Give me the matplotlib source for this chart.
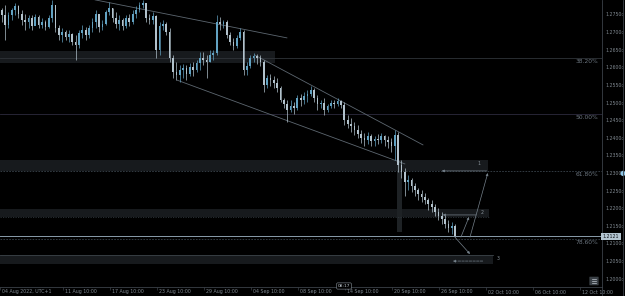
import numpy as np
import matplotlib.pyplot as plt
from matplotlib.patches import Rectangle, FancyBboxPatch, Ellipse
from matplotlib.lines import Line2D
from matplotlib.transforms import blended_transform_factory

# price data (one candle per bar)
first_open = 1.2764
closes = [1.2750, 1.2722, 1.2750, 1.2764, 1.2776, 1.2753, 1.2736, 1.2730, 1.2742, 1.2719,
          1.2744, 1.2722, 1.2730, 1.2716, 1.2742, 1.2778, 1.2713, 1.2693, 1.2702, 1.2687,
          1.2696, 1.2673, 1.2665, 1.2699, 1.2707, 1.2693, 1.2713, 1.2730, 1.2753, 1.2716,
          1.2724, 1.2759, 1.2770, 1.2742, 1.2724, 1.2736, 1.2719, 1.2742, 1.2730, 1.2753,
          1.2764, 1.2778, 1.2784, 1.2742, 1.2736, 1.2747, 1.2651, 1.2719, 1.2724, 1.2702,
          1.2628, 1.2588, 1.2580, 1.2594, 1.2599, 1.2582, 1.2602, 1.2594, 1.2614, 1.2628,
          1.2622, 1.2616, 1.2636, 1.2642, 1.2730, 1.2724, 1.2730, 1.2693, 1.2673, 1.2662,
          1.2685, 1.2702, 1.2594, 1.2605, 1.2628, 1.2634, 1.2628, 1.2616, 1.2551, 1.2571,
          1.2565, 1.2557, 1.2543, 1.2509, 1.2497, 1.2480, 1.2491, 1.2486, 1.2514, 1.2509,
          1.2520, 1.2526, 1.2537, 1.2514, 1.2497, 1.2500, 1.2480, 1.2491, 1.2500, 1.2497,
          1.2506, 1.2494, 1.2452, 1.2440, 1.2435, 1.2423, 1.2412, 1.2401, 1.2395, 1.2406,
          1.2392, 1.2398, 1.2395, 1.2406, 1.2395, 1.2389, 1.2378, 1.2409, 1.2324, 1.2304,
          1.2275, 1.2281, 1.2264, 1.2253, 1.2241, 1.2233, 1.2224, 1.2213, 1.2205, 1.2190,
          1.2179, 1.2170, 1.2156, 1.2145, 1.2151, 1.2121]
highs = [1.2770, 1.2778, 1.2759, 1.2770, 1.2784, 1.2778, 1.2764, 1.2753, 1.2750, 1.2750,
         1.2753, 1.2750, 1.2742, 1.2736, 1.2750, 1.2793, 1.2778, 1.2722, 1.2713, 1.2707,
         1.2707, 1.2699, 1.2693, 1.2707, 1.2722, 1.2716, 1.2722, 1.2742, 1.2764, 1.2750,
         1.2736, 1.2764, 1.2787, 1.2770, 1.2759, 1.2750, 1.2742, 1.2750, 1.2753, 1.2764,
         1.2776, 1.2787, 1.2793, 1.2784, 1.2753, 1.2759, 1.2750, 1.2730, 1.2736, 1.2730,
         1.2713, 1.2636, 1.2616, 1.2608, 1.2611, 1.2608, 1.2614, 1.2616, 1.2622, 1.2645,
         1.2645, 1.2636, 1.2651, 1.2651, 1.2750, 1.2744, 1.2736, 1.2736, 1.2702, 1.2685,
         1.2693, 1.2713, 1.2707, 1.2616, 1.2636, 1.2642, 1.2639, 1.2636, 1.2622, 1.2580,
         1.2582, 1.2577, 1.2571, 1.2548, 1.2514, 1.2509, 1.2509, 1.2503, 1.2523, 1.2526,
         1.2531, 1.2537, 1.2548, 1.2543, 1.2523, 1.2509, 1.2514, 1.2497, 1.2509, 1.2509,
         1.2514, 1.2509, 1.2503, 1.2466, 1.2457, 1.2446, 1.2438, 1.2423, 1.2415, 1.2418,
         1.2412, 1.2406, 1.2412, 1.2415, 1.2409, 1.2406, 1.2401, 1.2423, 1.2418, 1.2338,
         1.2315, 1.2296, 1.2287, 1.2273, 1.2259, 1.2253, 1.2244, 1.2230, 1.2224, 1.2213,
         1.2202, 1.2190, 1.2182, 1.2168, 1.2162, 1.2156]
lows = [1.2730, 1.2679, 1.2713, 1.2736, 1.2750, 1.2742, 1.2722, 1.2707, 1.2713, 1.2707,
        1.2724, 1.2713, 1.2713, 1.2707, 1.2713, 1.2730, 1.2702, 1.2679, 1.2673, 1.2679,
        1.2673, 1.2665, 1.2622, 1.2656, 1.2685, 1.2679, 1.2685, 1.2702, 1.2713, 1.2702,
        1.2707, 1.2722, 1.2750, 1.2730, 1.2713, 1.2707, 1.2707, 1.2713, 1.2719, 1.2724,
        1.2742, 1.2759, 1.2770, 1.2730, 1.2724, 1.2724, 1.2628, 1.2636, 1.2707, 1.2693,
        1.2616, 1.2571, 1.2565, 1.2560, 1.2571, 1.2565, 1.2577, 1.2577, 1.2588, 1.2594,
        1.2608, 1.2571, 1.2616, 1.2622, 1.2636, 1.2707, 1.2713, 1.2685, 1.2665, 1.2651,
        1.2656, 1.2679, 1.2580, 1.2580, 1.2599, 1.2616, 1.2611, 1.2605, 1.2531, 1.2543,
        1.2548, 1.2543, 1.2531, 1.2503, 1.2486, 1.2446, 1.2474, 1.2469, 1.2480, 1.2491,
        1.2497, 1.2503, 1.2520, 1.2503, 1.2480, 1.2486, 1.2466, 1.2474, 1.2486, 1.2486,
        1.2491, 1.2486, 1.2438, 1.2429, 1.2418, 1.2409, 1.2401, 1.2386, 1.2378, 1.2384,
        1.2378, 1.2378, 1.2384, 1.2386, 1.2378, 1.2372, 1.2361, 1.2338, 1.2304, 1.2287,
        1.2236, 1.2253, 1.2247, 1.2236, 1.2224, 1.2219, 1.2213, 1.2196, 1.2190, 1.2179,
        1.2168, 1.2156, 1.2145, 1.2134, 1.2128, 1.2119]

price_ticks = [1.2000, 1.2050, 1.2100, 1.2150, 1.2200, 1.2250, 1.2300, 1.2350,
               1.2400, 1.2450, 1.2500, 1.2550, 1.2600, 1.2650, 1.2700, 1.2750]
date_labels = ['04 Aug 2022, UTC+1', '11 Aug 10:00', '17 Aug 10:00', '23 Aug 10:00',
               '29 Aug 10:00', '04 Sep 10:00', '08 Sep 10:00', '14 Sep 10:00',
               '20 Sep 10:00', '26 Sep 10:00', '02 Oct 10:00', '06 Oct 10:00', '12 Oct 10:00']

fib_levels = [1.2628, 1.2469, 1.2308, 1.2114]
fib_names = ['38.20%', '50.00%', '61.80%', '78.60%']
last_price = 1.2121

# zones: (top, bottom, end bar, label, label offset)
zones = [(1.2648, 1.2614, 81.3, '', 0),
         (1.2338, 1.2307, 144.7, '1', -2.5),
         (1.2199, 1.2176, 145.0, '2', -2.0),
         (1.2068, 1.2043, 146.2, '3', 1.5)]

# trend lines (bar, price)
trend_lines = [((27.8, 1.2793), (84.9, 1.2685)),
               ((52.2, 1.2565), (120.0, 1.2327)),
               ((75.4, 1.2636), (125.4, 1.2381))]

BG = 'black'
GRID = '#3b4148'
TXT = '#7f8890'
UP = '#62a2c2'
DOWN = '#b2c2cc'
TOOL = '#75818b'

W, H = 625, 296
fig = plt.figure(figsize=(W / 100, H / 100), dpi=100, facecolor=BG)
ax = fig.add_axes([0, 9 / H, 602 / W, 287 / H], facecolor=BG)

x = np.arange(len(closes))
opens = np.array([first_open] + closes[:-1])
c = np.array(closes)
cols = [UP if cc >= oo else DOWN for oo, cc in zip(opens, c)]

ax.vlines(x, lows, highs, colors=cols, linewidth=0.5, zorder=3)
ax.bar(x, c - opens, bottom=opens, width=0.5, color=cols, linewidth=0, zorder=3)

xmin, xmax = -0.5, 178.7
ax.set_xlim(xmin, xmax)
ax.set_ylim(1.19773, 1.27926)

# zones
for top, bot, end, lab, off in zones:
    ax.add_patch(Rectangle((xmin, bot), end - xmin, top - bot, facecolor='#171a1d',
                           edgecolor='none', zorder=1))
    if lab:
        ax.text(end + off, top - 0.0004, lab, color='#8a949c', fontsize=3.3,
                ha='center', va='top', zorder=5)
ax.plot([xmin, 146.2], [zones[3][0], zones[3][0]], color='#3c4349', lw=0.6, zorder=2)
ax.plot([xmin, 145.0], [zones[2][1], zones[2][1]], color='#2e353b', lw=0.6,
        ls=(0, (1.5, 1.5)), zorder=2)

# vertical shaded bar
ax.add_patch(Rectangle((117.6, 1.2133), 1.5, 1.2338 - 1.2133, facecolor='#1e2225',
                       edgecolor='none', zorder=1))

# fib lines
yt = blended_transform_factory(ax.transAxes, ax.transData)
fib_styles = [('#2f3439', '-'), ('#2d2a3d', '-'), ('#3a444c', (0, (2, 1.5))), ('#3a444c', (0, (2, 1.5)))]
for lvl, name, (col, ls) in zip(fib_levels, fib_names, fib_styles):
    ax.axhline(lvl, color=col, lw=0.6, ls=ls, zorder=2)
    ax.text(598 / 602, lvl - 0.0003, name, transform=yt, color='#6c7680',
            fontsize=4.3, ha='right', va='top')

# current price line
ax.axhline(last_price, color='#8a9cab', lw=0.7, zorder=4)

# trend lines
for (x0, y0), (x1, y1) in trend_lines:
    ax.plot([x0, x1], [y0, y1], color='#5d6770', lw=0.6, zorder=2)

# projection arrows
arrows = [((144.4, 1.2307), (131.0, 1.2307), '-'),
          ((141.2, 1.2182), (131.3, 1.2182), '-'),
          ((143.2, 1.2051), (134.3, 1.2051), '--'),
          ((134.9, 1.2119), (139.4, 1.2071), '-'),
          ((136.7, 1.2119), (139.1, 1.2176), '-'),
          ((139.4, 1.2119), (144.7, 1.2301), '-')]
for tail, head, ls in arrows:
    ax.annotate('', xy=head, xytext=tail,
                arrowprops=dict(arrowstyle='-|>', color=TOOL, lw=0.5, ls=ls,
                                mutation_scale=3.5, shrinkA=0, shrinkB=0), zorder=5)

# axes styling
for s in ['top', 'left']:
    ax.spines[s].set_visible(False)
for s in ['bottom', 'right']:
    ax.spines[s].set_color(GRID)
    ax.spines[s].set_linewidth(0.6)
ax.set_yticks([])
tick_pos = [xmin] + [18.24 + 13.99 * k for k in range(12)]
ax.set_xticks(tick_pos)
ax.set_xticklabels([])
ax.tick_params(axis='x', length=2.5, width=0.5, color=GRID)

xt = blended_transform_factory(ax.transData, ax.transAxes)
for tp, lab in zip(tick_pos, date_labels):
    ax.text(tp + 0.6, -5 / 287, lab, transform=xt, color=TXT, fontsize=3.4,
            ha='left', va='center', clip_on=False)

for p in price_ticks:
    ax.text(605 / 602, p, f'{p:.4f}\u2080', transform=yt, color=TXT, fontsize=3.4,
            ha='left', va='center', clip_on=False)

# current price box on the axis
ax.add_patch(Rectangle((601 / 602, last_price - 0.0009), 20 / 602, 0.0018, transform=yt,
                       facecolor='#b3c5d1', edgecolor='none', clip_on=False, zorder=6))
ax.text(611 / 602, last_price, f'{last_price:.4f}', transform=yt, color='#0b1015',
        fontsize=3.3, ha='center', va='center', clip_on=False, zorder=7)
ax.add_patch(Ellipse((623 / 602, 1.2300), 5 / 602, 0.0015, transform=yt,
                     facecolor='#8ec6e6', edgecolor='none', clip_on=False, zorder=6))

# window chrome
fig.add_artist(Line2D([602 / W, 602 / W], [0, 9 / H], color=GRID, lw=0.6))
fig.add_artist(Line2D([623 / W, 623 / W], [0, 1], color=GRID, lw=0.6))
fig.add_artist(FancyBboxPatch((590 / W, (H - 285) / H), 8 / W, 8 / H,
                              boxstyle='round,pad=0.001', transform=fig.transFigure,
                              facecolor='#3a4046', edgecolor='none'))
for yy in [278.5, 280.8, 283.1]:
    fig.add_artist(Line2D([591.8 / W, 596.2 / W], [(H - yy) / H] * 2, color='#c0c8cf', lw=0.5))
fig.text(344 / W, (H - 286) / H, '08:17', color='#c0c8cf', fontsize=3.2,
         ha='center', va='center',
         bbox=dict(boxstyle='round,pad=0.25', facecolor='black', edgecolor='#8a949c', lw=0.4))

fig.savefig('out.png', dpi=100, facecolor=BG)
